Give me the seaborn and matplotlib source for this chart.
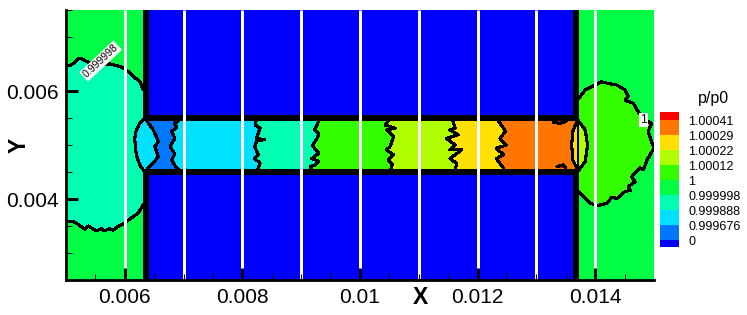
import numpy as np
import matplotlib
matplotlib.use("Agg")
import matplotlib.pyplot as plt
from matplotlib.ticker import FixedLocator, FixedFormatter
import seaborn as sns

sns.set_style("white")
plt.rcParams["font.family"] = ["Liberation Sans", "DejaVu Sans"]
plt.rcParams["text.color"] = "black"
plt.rcParams["axes.labelcolor"] = "black"
plt.rcParams["xtick.color"] = "black"
plt.rcParams["ytick.color"] = "black"

# Contour levels and colours
LEVEL_LABELS = ["1.00041", "1.00029", "1.00022", "1.00012", "1", "0.999998", "0.999888", "0.999676", "0"]
LEVEL_COLORS = ["#ff0000", "#ff7700", "#ffe000", "#b0ff00", "#33ff00", "#00ff44", "#00ffb0", "#00e0ff", "#0077ff", "#0000ff"]
SWATCH_HEIGHTS = [0.5, 1, 1, 1, 1, 1, 1, 1, 1, 0.5]

RED, ORANGE, YELLOW, YGREEN, GREEN1, GREEN2, AQUA, CYAN, AZURE, BLUE = LEVEL_COLORS

# Tick values
X_MAJOR = [0.006, 0.008, 0.010, 0.012, 0.014]
X_LABELS = ["0.006", "0.008", "0.01", "0.012", "0.014"]
Y_MAJOR = [0.004, 0.006]
Y_LABELS = ["0.004", "0.006"]
X_GRID = [6, 7, 8, 9, 10, 11, 12, 13, 14]
X_MINOR = [5.5, 6.5, 7, 7.5, 8.5, 9, 9.5, 10.5, 11, 11.5, 12.5, 13, 13.5, 14.5]
Y_MINOR = [2.5, 3, 3.5, 4.5, 5, 5.5, 6.5, 7, 7.5]

# Geometry (mm)
X_RANGE = (5.0, 15.0)
Y_RANGE = (2.5, 7.5)
CH_LOW, CH_HIGH = 4.5, 5.5
WALL_L = (6.315, 6.406)
WALL_R = (13.62, 13.72)
WALL_T = 0.095

# Contour lines, mm (x, y)
left_bulge_x = [5.0, 5.07, 5.15, 5.21, 5.25, 5.32, 5.41, 5.47, 5.58, 5.75, 5.86, 5.95, 6.00, 6.09, 6.17, 6.26, 6.31]
left_bulge_y = [6.46, 6.47, 6.53, 6.60, 6.61, 6.56, 6.52, 6.53, 6.50, 6.50, 6.47, 6.44, 6.41, 6.33, 6.25, 6.17, 6.03]
left_low_x = [6.31, 6.23, 6.06, 5.98, 5.87, 5.80, 5.75, 5.65, 5.60, 5.52, 5.44, 5.38, 5.32, 5.18, 5.10, 5.0]
left_low_y = [3.89, 3.74, 3.61, 3.54, 3.48, 3.42, 3.45, 3.41, 3.45, 3.41, 3.46, 3.50, 3.44, 3.55, 3.59, 3.58]

bulb_l_x = [6.34, 6.25, 6.19, 6.17, 6.18, 6.20, 6.26, 6.34]
bulb_l_y = [5.5, 5.40, 5.25, 5.12, 4.95, 4.80, 4.62, 4.5]
bulb_r_x = [6.34, 6.485, 6.57, 6.51, 6.57, 6.34]
bulb_r_y = [5.5, 5.28, 5.06, 4.97, 4.78, 4.5]

b_azure_x = [6.97, 6.85, 6.88, 6.80, 6.85, 6.77, 6.85, 6.80, 6.88, 6.97]
b_azure_y = [5.5, 5.40, 5.33, 5.25, 5.12, 4.97, 4.84, 4.72, 4.57, 4.5]
b_cyan_x = [8.24, 8.22, 8.30, 8.24, 8.38, 8.24, 8.21, 8.27, 8.21, 8.30, 8.24]
b_cyan_y = [5.5, 5.37, 5.31, 5.12, 5.10, 5.07, 4.97, 4.82, 4.75, 4.66, 4.5]
b_aqua_x = [9.32, 9.23, 9.30, 9.27, 9.19, 9.30, 9.18, 9.30, 9.24, 9.15, 9.2]
b_aqua_y = [5.5, 5.28, 5.20, 5.12, 4.99, 4.85, 4.75, 4.70, 4.63, 4.6, 4.5]
b_green_x = [10.51, 10.43, 10.60, 10.45, 10.57, 10.51, 10.45, 10.57, 10.48, 10.55, 10.51]
b_green_y = [5.5, 5.37, 5.31, 5.28, 5.15, 4.97, 4.91, 4.82, 4.72, 4.64, 4.5]
b_ygreen_x = [11.56, 11.62, 11.53, 11.67, 11.47, 11.62, 11.53, 11.73, 11.53, 11.64, 11.62]
b_ygreen_y = [5.5, 5.31, 5.28, 5.19, 5.12, 5.0, 4.91, 4.91, 4.75, 4.66, 4.5]
b_yellow_x = [12.32, 12.44, 12.47, 12.38, 12.49, 12.32, 12.44, 12.32, 12.44, 12.44]
b_yellow_y = [5.5, 5.31, 5.25, 5.12, 5.0, 4.94, 4.82, 4.75, 4.57, 4.5]

lens_in_x = [13.70, 13.62, 13.60, 13.62, 13.70]
lens_in_y = [5.47, 5.25, 5.0, 4.72, 4.54]
lens_mid_x = [13.70, 13.70]
lens_mid_y = [5.47, 4.54]
lens_out_x = [13.70, 13.83, 13.87, 13.83, 13.70]
lens_out_y = [5.47, 5.28, 5.0, 4.69, 4.51]

right_bulge_x = [13.72, 13.83, 14.00, 14.11, 14.22, 14.37, 14.51, 14.56, 14.51, 14.65, 14.71, 14.82, 14.96, 14.90, 14.96, 15.0,
                 14.88, 14.82, 14.76, 14.62, 14.68, 14.56, 14.60, 14.51, 14.37, 14.28, 14.20, 14.05, 13.91, 13.80, 13.72]
right_bulge_y = [5.86, 6.02, 6.11, 6.17, 6.14, 6.11, 6.02, 5.90, 5.83, 5.77, 5.65, 5.49, 5.40, 5.25, 5.06, 4.94,
                 4.72, 4.54, 4.58, 4.41, 4.32, 4.23, 4.16, 4.14, 4.01, 4.03, 3.92, 3.88, 3.92, 4.04, 4.14]

red_top_x = [13.29, 13.40, 13.51]
red_top_y = [5.42, 5.40, 5.44]
red_low_x = [13.35, 13.45, 13.50]
red_low_y = [4.60, 4.63, 4.58]

NOTE_1_TEXT, NOTE_1_XY = "0.999998", (5.59, 6.555)
NOTE_2_TEXT, NOTE_2_XY = "1", (14.82, 5.46)

W, H = 747, 315
fig = plt.figure(figsize=(W / 100, H / 100), dpi=100, facecolor="white")
ax = fig.add_axes([66 / W, (H - 280) / H, (654 - 66) / W, (280 - 10) / H])
M = 1e-3


def poly(xs, ys, color, z=1.0):
    ax.fill(np.asarray(xs) * M, np.asarray(ys) * M, color=color, lw=0, zorder=z, antialiased=False)


def rect(x0, x1, y0, y1, color, z=1.0):
    poly([x0, x1, x1, x0], [y0, y0, y1, y1], color, z)


def contour(xs, ys, lw=1.5):
    sns.lineplot(x=np.asarray(xs) * M, y=np.asarray(ys) * M, sort=False, estimator=None, color="black",
                 lw=lw, zorder=2.2, ax=ax, legend=False, antialiased=False)


def band(left_x, left_y, right_x, right_y, color):
    poly(list(left_x) + list(right_x)[::-1], list(left_y) + list(right_y)[::-1], color, 1.2)


# Background
rect(*X_RANGE, *Y_RANGE, GREEN2, 0.5)
# Left aqua bulge and right green bulge
poly(left_bulge_x + left_low_x, left_bulge_y + left_low_y, AQUA, 0.8)
poly(right_bulge_x, right_bulge_y, GREEN1, 0.8)
# Solid blocks
rect(WALL_L[0], WALL_R[1], CH_HIGH, Y_RANGE[1], BLUE, 1.0)
rect(WALL_L[0], WALL_R[1], Y_RANGE[0], CH_LOW, BLUE, 1.0)
# Channel bands
start_x, start_y = [6.34, 6.34], [5.5, 4.5]
band(start_x, start_y, b_azure_x, b_azure_y, AZURE)
band(b_azure_x, b_azure_y, b_cyan_x, b_cyan_y, CYAN)
band(b_cyan_x, b_cyan_y, b_aqua_x, b_aqua_y, AQUA)
band(b_aqua_x, b_aqua_y, b_green_x, b_green_y, GREEN1)
band(b_green_x, b_green_y, b_ygreen_x, b_ygreen_y, YGREEN)
band(b_ygreen_x, b_ygreen_y, b_yellow_x, b_yellow_y, YELLOW)
band(b_yellow_x, b_yellow_y, lens_in_x, lens_in_y, ORANGE)
# Bulb and lens
poly(bulb_l_x + bulb_r_x[::-1], bulb_l_y + bulb_r_y[::-1], CYAN, 1.4)
poly(lens_in_x + lens_mid_x[::-1], lens_in_y + lens_mid_y[::-1], YELLOW, 1.4)
poly(lens_mid_x + lens_out_x[::-1], lens_mid_y + lens_out_y[::-1], YGREEN, 1.4)
poly(red_top_x, red_top_y, RED, 1.4)
poly(red_low_x, red_low_y, RED, 1.4)
# Walls
rect(*WALL_L, CH_HIGH - WALL_T / 2, Y_RANGE[1], "black", 2.1)
rect(*WALL_L, Y_RANGE[0], CH_LOW + WALL_T / 2, "black", 2.1)
rect(*WALL_R, CH_HIGH - WALL_T / 2, Y_RANGE[1], "black", 2.1)
rect(*WALL_R, Y_RANGE[0], CH_LOW + WALL_T / 2, "black", 2.1)
rect(WALL_L[0], WALL_R[1], CH_HIGH - WALL_T / 2, CH_HIGH + WALL_T / 2, "black", 2.1)
rect(WALL_L[0], WALL_R[1], CH_LOW - WALL_T / 2, CH_LOW + WALL_T / 2, "black", 2.1)

# Contour lines
for xs, ys in [(left_bulge_x, left_bulge_y), (left_low_x, left_low_y), (bulb_l_x, bulb_l_y), (bulb_r_x, bulb_r_y),
               (b_azure_x, b_azure_y), (b_cyan_x, b_cyan_y), (b_aqua_x, b_aqua_y), (b_green_x, b_green_y),
               (b_ygreen_x, b_ygreen_y), (b_yellow_x, b_yellow_y), (lens_in_x, lens_in_y), (lens_out_x, lens_out_y),
               (right_bulge_x, right_bulge_y), (red_top_x, red_top_y), (red_low_x, red_low_y)]:
    contour(xs, ys)
contour(lens_mid_x, lens_mid_y, 1.1)

# White grid lines
ax.vlines(np.asarray(X_GRID) * M, Y_RANGE[0] * M, Y_RANGE[1] * M, color="white", lw=2.16, zorder=2.3)

# Contour notes
ax.text(NOTE_1_XY[0] * M, NOTE_1_XY[1] * M, NOTE_1_TEXT, rotation=43, fontsize=7.6, ha="center", va="center", zorder=3,
        rotation_mode="anchor", bbox=dict(fc="white", ec="none", pad=1.0))
ax.text(NOTE_2_XY[0] * M, NOTE_2_XY[1] * M, NOTE_2_TEXT, fontsize=8.8, ha="center", va="center", zorder=3,
        bbox=dict(fc="white", ec="none", pad=0.8))

# Axes
ax.set_xlim(X_RANGE[0] * M, X_RANGE[1] * M)
ax.set_ylim(Y_RANGE[0] * M, Y_RANGE[1] * M)
ax.set_axisbelow(False)
ax.xaxis.set_major_locator(FixedLocator(X_MAJOR))
ax.xaxis.set_major_formatter(FixedFormatter(X_LABELS))
ax.xaxis.set_minor_locator(FixedLocator(np.asarray(X_MINOR) * M))
ax.yaxis.set_major_locator(FixedLocator(Y_MAJOR))
ax.yaxis.set_major_formatter(FixedFormatter(Y_LABELS))
ax.yaxis.set_minor_locator(FixedLocator(np.asarray(Y_MINOR) * M))
ax.tick_params(which="major", direction="in", length=8.6, width=2.16, color="black", labelsize=15, pad=5.5, left=True, bottom=True)
ax.tick_params(which="minor", direction="in", length=4.4, width=0.72, color="black", left=True, bottom=True)
for s in ("top", "right"):
    ax.spines[s].set_visible(False)
for s in ("left", "bottom"):
    ax.spines[s].set_visible(True)
    ax.spines[s].set_color("black")
    ax.spines[s].set_linewidth(2.0)
ax.set_xlabel("X", fontsize=16.5, fontweight="bold")
ax.set_ylabel("Y", fontsize=16.5, fontweight="bold")
ax.xaxis.set_label_coords((420 - 66) / 588, -17 / 270)
ax.xaxis.label.set_va("center")
ax.yaxis.set_label_coords((19 - 66) / 588, 0.5)
ax.yaxis.label.set_va("center")

# Level legend
lax = fig.add_axes([660 / W, (H - 247) / H, 19 / W, 135 / H])
total = sum(SWATCH_HEIGHTS)
tops = total - np.cumsum([0] + SWATCH_HEIGHTS[:-1])
lax.bar(np.zeros(len(SWATCH_HEIGHTS)), SWATCH_HEIGHTS, bottom=tops - np.asarray(SWATCH_HEIGHTS), width=1,
        color=LEVEL_COLORS, lw=0, antialiased=False)
lax.set_xlim(-0.5, 0.5)
lax.set_ylim(0, total)
lax.axis("off")
for lab, y in zip(LEVEL_LABELS, tops[1:]):
    lax.annotate(lab, (0.5, y), xytext=(6.5, -1.6), textcoords="offset points", xycoords=("data", "data"),
                 fontsize=9, ha="left", va="center", annotation_clip=False)
fig.text(713 / W, (H - 98) / H, "p/p0", fontsize=11.5, ha="center", va="center")

fig.savefig("out.png", dpi=100, facecolor="white")
